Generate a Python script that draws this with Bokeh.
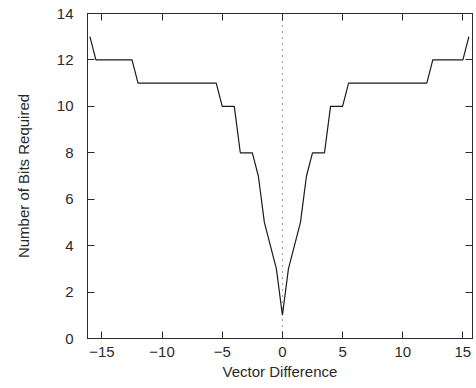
from bokeh.plotting import figure
from bokeh.models import LinearAxis, Span, FixedTicker, CustomJSTickFormatter
from bokeh.embed import file_html
from bokeh.resources import INLINE

# Data (vector difference in half-pel steps)
vector_difference = [
    -16.0, -15.5, -15.0, -14.5, -14.0, -13.5, -13.0, -12.5, -12.0, -11.5,
    -11.0, -10.5, -10.0, -9.5, -9.0, -8.5, -8.0, -7.5, -7.0, -6.5,
    -6.0, -5.5, -5.0, -4.5, -4.0, -3.5, -3.0, -2.5, -2.0, -1.5,
    -1.0, -0.5, 0.0, 0.5, 1.0, 1.5, 2.0, 2.5, 3.0, 3.5,
    4.0, 4.5, 5.0, 5.5, 6.0, 6.5, 7.0, 7.5, 8.0, 8.5,
    9.0, 9.5, 10.0, 10.5, 11.0, 11.5, 12.0, 12.5, 13.0, 13.5,
    14.0, 14.5, 15.0, 15.5,
]
bits_required = [
    13, 12, 12, 12, 12, 12, 12, 12, 11, 11,
    11, 11, 11, 11, 11, 11, 11, 11, 11, 11,
    11, 11, 10, 10, 10, 8, 8, 8, 7, 5,
    4, 3, 1, 3, 4, 5, 7, 8, 8, 8,
    10, 10, 10, 11, 11, 11, 11, 11, 11, 11,
    11, 11, 11, 11, 11, 11, 11, 12, 12, 12,
    12, 12, 12, 13,
]
x_ticks = [-15, -10, -5, 0, 5, 10, 15]
y_ticks = [0, 2, 4, 6, 8, 10, 12, 14]

FONT = "Liberation Sans"
TXT = "#2a2a2a"
AX = "#2a2a2a"

p = figure(width=476, height=388, x_range=(-16.2, 15.8), y_range=(0, 14),
           output_backend="svg", toolbar_location=None,
           min_border_left=87, min_border_right=4, min_border_top=13,
           min_border_bottom=50)
p.background_fill_color = "white"
p.border_fill_color = "white"
p.outline_line_color = AX
p.xgrid.visible = False
p.ygrid.visible = False

for ax in (p.xaxis[0], p.yaxis[0]):
    ax.major_tick_in = 7
    ax.major_tick_out = 0
    ax.minor_tick_line_color = None
    ax.axis_line_color = AX
    ax.major_tick_line_color = AX
    ax.major_label_text_font = FONT
    ax.major_label_text_font_size = "15px"
    ax.major_label_text_color = TXT
    ax.axis_label_text_font = FONT
    ax.axis_label_text_font_size = "15px"
    ax.axis_label_text_font_style = "normal"
    ax.axis_label_text_color = TXT

p.xaxis[0].ticker = FixedTicker(ticks=x_ticks)
p.yaxis[0].ticker = FixedTicker(ticks=y_ticks)
p.xaxis[0].axis_label = "Vector Difference"
p.yaxis[0].axis_label = "Number of Bits Required"
p.xaxis[0].major_label_standoff = 8
p.xaxis[0].axis_label_standoff = 3
p.yaxis[0].major_label_standoff = 14
p.yaxis[0].axis_label_standoff = 22

blank = CustomJSTickFormatter(code="return ''")
top_axis = LinearAxis(ticker=FixedTicker(ticks=x_ticks), formatter=blank,
                      major_tick_in=7, major_tick_out=0, major_label_standoff=0,
                      minor_tick_line_color=None, axis_line_color=AX,
                      major_tick_line_color=AX)
right_axis = LinearAxis(ticker=FixedTicker(ticks=y_ticks), formatter=blank,
                        major_tick_in=7, major_tick_out=0, major_label_standoff=0,
                        minor_tick_line_color=None, axis_line_color=AX,
                        major_tick_line_color=AX)
p.add_layout(top_axis, "above")
p.add_layout(right_axis, "right")

p.add_layout(Span(location=0, dimension="height", line_color="#333",
                  line_dash="1 5", line_width=1))

p.line(vector_difference, bits_required, line_color="#1a1a1a", line_width=1.2)

open("out.html", "w").write(file_html(p, INLINE))
